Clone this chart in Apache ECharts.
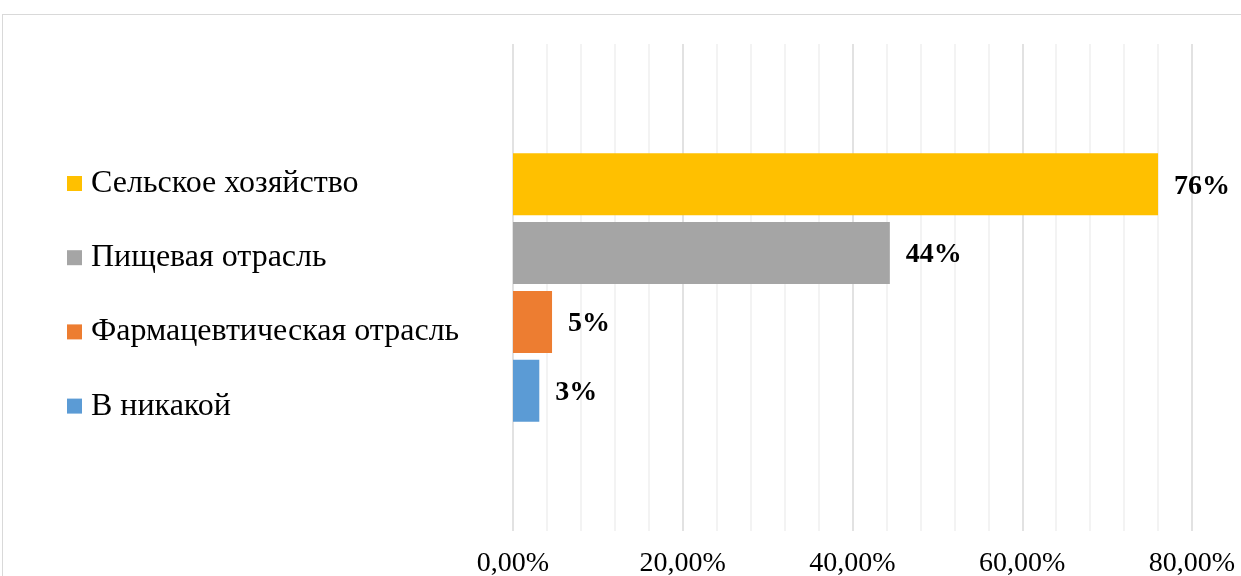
<!DOCTYPE html>
<html>
<head>
<meta charset="utf-8">
<script src="https://cdn.jsdelivr.net/npm/echarts@6/dist/echarts.min.js"></script>
<style>
  html, body { margin: 0; padding: 0; background: #fff; overflow: hidden; }
  #frame { position: absolute; left: 2px; top: 14px; width: 1400px; height: 800px; border: 1px solid #d9d9d9; box-sizing: border-box; }
  #chart { position: absolute; left: 0; top: 0; width: 1241px; height: 576px; }
</style>
</head>
<body>
<div id="frame"></div>
<div id="chart"></div>
<script>
// Series (legend order top to bottom)
const seriesNames = ['Сельское хозяйство', 'Пищевая отрасль', 'Фармацевтическая отрасль', 'В никакой'];
const seriesValues = [76, 44.4, 4.6, 3.1];
const seriesColors = ['#ffc000', '#a5a5a5', '#ed7d31', '#5b9bd5'];
const categories = [''];
const xTicks = [0, 20, 40, 60, 80];

const FONT = '"Liberation Serif", "Times New Roman", serif';

const series = seriesNames.map((name, i) => ({
  name: name,
  type: 'bar',
  data: [seriesValues[i]],
  barWidth: 62,
  barGap: '11%',
  itemStyle: { color: seriesColors[i] },
  label: {
    show: true,
    position: 'right',
    distance: 16,
    offset: [0, 2],
    formatter: p => Math.round(p.value) + '%',
    fontFamily: FONT,
    fontSize: 28,
    fontWeight: 'bold',
    color: '#000'
  }
}));

const chart = echarts.init(document.getElementById('chart'));
chart.setOption({
  animation: false,
  textStyle: { fontFamily: FONT },
  grid: { left: 513, right: 49, top: 44, bottom: 45, containLabel: false, outerBoundsMode: 'none' },
  legend: {
    data: seriesNames,
    orient: 'vertical',
    left: 62,
    top: 161.5,
    icon: 'rect',
    itemWidth: 15,
    itemHeight: 15,
    itemGap: 40.2,
    textStyle: { fontFamily: FONT, fontSize: 32, color: '#000', lineHeight: 34, padding: [0, 0, 0, 4] }
  },
  xAxis: {
    type: 'value',
    min: xTicks[0],
    max: xTicks[xTicks.length - 1],
    interval: xTicks[1] - xTicks[0],
    axisLine: { show: false },
    axisTick: { show: false },
    axisLabel: {
      fontFamily: FONT,
      fontSize: 28,
      color: '#000',
      margin: 19,
      formatter: v => v.toFixed(2).replace('.', ',') + '%'
    },
    splitLine: { show: true, lineStyle: { color: '#d9d9d9', width: 1.5 } },
    minorTick: { show: false, splitNumber: 5 },
    minorSplitLine: { show: true, lineStyle: { color: '#f0f0f0', width: 1.5 } }
  },
  yAxis: {
    type: 'category',
    data: categories,
    axisLine: { show: false },
    axisTick: { show: false },
    axisLabel: { show: false },
    splitLine: { show: false }
  },
  series: series
});
</script>
</body>
</html>
